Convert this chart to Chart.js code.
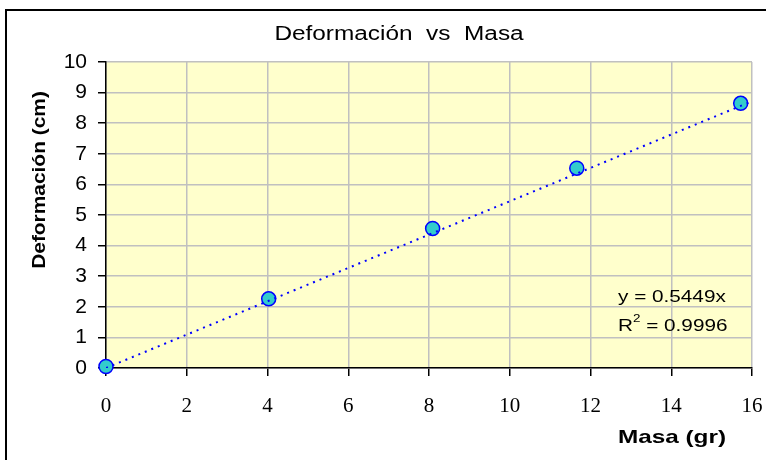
<!DOCTYPE html>
<html>
<head>
<meta charset="utf-8">
<script src="https://cdn.jsdelivr.net/npm/chart.js@4/dist/chart.umd.min.js"></script>
<style>
  html, body { margin: 0; padding: 0; background: #fff; }
  #wrap { width: 766px; height: 460px; position: relative; }
</style>
</head>
<body>
<div id="wrap"><canvas id="c" width="766" height="460"></canvas></div>
<script>
// ---- data ----
const masa = [0, 4.03, 8.09, 11.66, 15.72];
const deformacion = [0.05, 2.26, 4.56, 6.53, 8.65];
const trendX = [0, 16];
const trendY = [0, 8.7184];
const xTicks = [0, 2, 4, 6, 8, 10, 12, 14, 16];
const yTicks = [0, 1, 2, 3, 4, 5, 6, 7, 8, 9, 10];
const chartTitle = 'Deformación  vs  Masa';
const xTitle = 'Masa (gr)';
const yTitle = 'Deformación (cm)';
const eqLine1 = 'y = 0.5449x';
const eqR = 'R';
const eqSup = '2';
const eqRest = ' = 0.9996';

const SANS = '"Liberation Sans", Arial, sans-serif';
const SERIF = '"Liberation Serif", "Times New Roman", serif';

// draw text horizontally stretched by sx, anchored at (x, y)
function stretchText(ctx, text, x, y, align, sx) {
  ctx.save();
  ctx.translate(x, y);
  ctx.scale(sx, 1);
  ctx.textAlign = align;
  ctx.fillText(text, 0, 0);
  ctx.restore();
}

const decor = {
  id: 'decor',
  beforeDraw(chart) {
    const ctx = chart.ctx;
    const a = chart.chartArea;
    ctx.save();
    ctx.fillStyle = '#ffffff';
    ctx.fillRect(0, 0, chart.width, chart.height);
    ctx.strokeStyle = '#000000';
    ctx.lineWidth = 2;
    ctx.strokeRect(6, 10, 800, 500);
    ctx.fillStyle = '#FFFFCC';
    ctx.fillRect(a.left, a.top, a.right - a.left, a.bottom - a.top);
    ctx.restore();
  },
  afterDraw(chart) {
    const ctx = chart.ctx;
    ctx.save();
    ctx.fillStyle = '#000000';
    ctx.textBaseline = 'middle';
    // chart title
    ctx.font = '19.5px ' + SANS;
    stretchText(ctx, chartTitle, 399, 35, 'center', 1.25);
    // x axis title
    ctx.font = 'bold 19px ' + SANS;
    stretchText(ctx, xTitle, 726, 438, 'right', 1.28);
    // y axis title (rotated)
    ctx.save();
    ctx.translate(40, 180);
    ctx.rotate(-Math.PI / 2);
    ctx.font = 'bold 19px ' + SANS;
    stretchText(ctx, yTitle, 0, 0, 'center', 1.1);
    ctx.restore();
    // equation
    const sx = 1.22;
    ctx.font = '17px ' + SANS;
    stretchText(ctx, eqLine1, 618, 297, 'left', sx);
    stretchText(ctx, eqR, 618, 326, 'left', sx);
    const rw = ctx.measureText(eqR).width * sx;
    ctx.font = '11px ' + SANS;
    stretchText(ctx, eqSup, 618 + rw, 319, 'left', sx);
    const sw = ctx.measureText(eqSup).width * sx;
    ctx.font = '17px ' + SANS;
    stretchText(ctx, eqRest, 618 + rw + sw, 326, 'left', sx);
    ctx.restore();
  }
};

new Chart(document.getElementById('c'), {
  type: 'scatter',
  data: {
    datasets: [
      {
        label: 'Tendencia',
        data: trendX.map((x, i) => ({ x: x, y: trendY[i] })),
        showLine: true,
        borderColor: '#0000FF',
        borderWidth: 2,
        borderDash: [2, 5],
        pointRadius: 0,
        fill: false
      },
      {
        label: 'Datos',
        data: masa.map((x, i) => ({ x: x, y: deformacion[i] })),
        backgroundColor: '#33CCCC',
        borderColor: '#0000FF',
        borderWidth: 1.5,
        pointRadius: 7,
        clip: false
      }
    ]
  },
  options: {
    responsive: false,
    animation: false,
    layout: { padding: { left: 0, right: 14, top: 62, bottom: 0 } },
    plugins: {
      legend: { display: false },
      title: { display: false },
      tooltip: { enabled: false }
    },
    scales: {
      x: {
        type: 'linear',
        min: 0, max: 16,
        afterFit(s) { s.height = 92; s.paddingLeft = 0; s.paddingRight = 0; },
        afterBuildTicks(s) { s.ticks = xTicks.map(v => ({ value: v })); },
        ticks: { color: '#000', font: { family: SERIF, size: 21 }, padding: 18, maxRotation: 0 },
        grid: { color: '#C0C0C0', lineWidth: 1.5, tickColor: '#000', tickLength: 8, drawTicks: true },
        border: { color: '#000', width: 1.5 }
      },
      y: {
        type: 'linear',
        min: 0, max: 10,
        afterFit(s) { s.width = 106; s.paddingTop = 0; s.paddingBottom = 0; },
        afterBuildTicks(s) { s.ticks = yTicks.map(v => ({ value: v })); },
        ticks: { color: '#000', font: { family: SANS, size: 21 }, padding: 11 },
        grid: { color: '#C0C0C0', lineWidth: 1.5, tickColor: '#000', tickLength: 8 },
        border: { color: '#000', width: 1.5 }
      }
    }
  },
  plugins: [decor]
});
</script>
</body>
</html>
